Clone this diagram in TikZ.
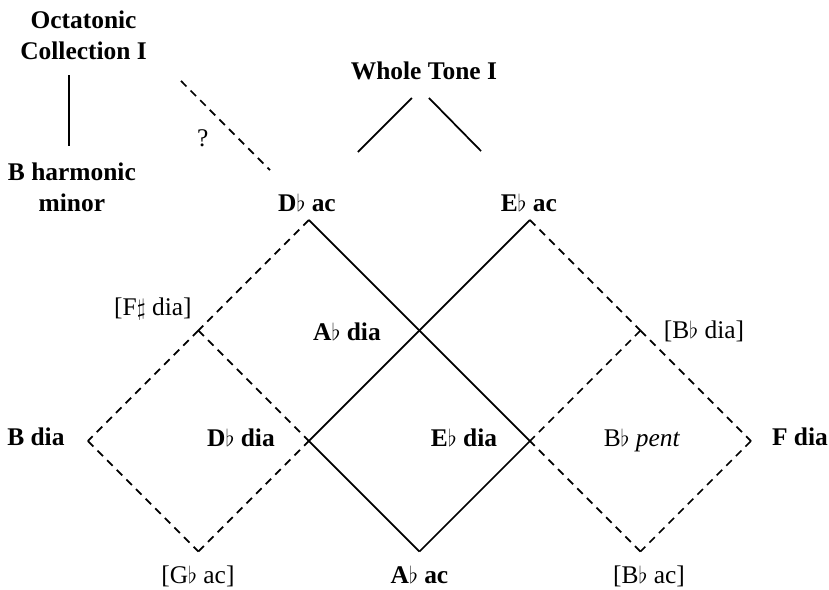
\documentclass[tikz,border=0pt]{standalone}
\usepackage{fontspec}
\setmainfont{Liberation Serif}
\usepackage{tikz}
\usetikzlibrary{arrows}

\tikzset{
  lbl/.style={anchor=base,inner sep=0pt,font=\fontsize{13.1}{16}\selectfont},
  bflbl/.style={lbl,font=\fontsize{13.1}{16}\selectfont\bfseries},
  solidline/.style={line width=0.9pt},
  dashline/.style={line width=0.9pt,dash pattern=on 4pt off 3pt}
}

\begin{document}
\begin{tikzpicture}[line cap=butt,line join=miter,x=2cm,y=2cm]
		\clip(-3.796,-1.348) rectangle (3.706,3.991);
		% lattice points
		\coordinate (dbac) at (-1,2);
		\coordinate (ebac) at (1,2);
		\coordinate (abdia) at (0,1);
		\coordinate (dbdia) at (-1,0);
		\coordinate (ebdia) at (1,0);
		\coordinate (abac) at (0,-1);
		\coordinate (fsdia) at (-2,1);
		\coordinate (bdia) at (-3,0);
		\coordinate (gbac) at (-2,-1);
		\coordinate (bbdia) at (2,1);
		\coordinate (fdia) at (3,0);
		\coordinate (bbac) at (2,-1);
		% free ends of the upper strokes
		\coordinate (wtl1) at (-0.557,2.615);
		\coordinate (wtl2) at (-0.068,3.104);
		\coordinate (wtr1) at (0.086,3.104);
		\coordinate (wtr2) at (0.557,2.624);
		\coordinate (oct1) at (-3.172,3.312);
		\coordinate (oct2) at (-3.172,2.670);
		\coordinate (q1) at (-2.158,3.258);
		\coordinate (q2) at (-1.353,2.452);
		% solid diamond
		\draw [solidline] (dbac)-- (abdia);
		\draw [solidline] (abdia)-- (ebdia);
		\draw [solidline] (ebac)-- (abdia);
		\draw [solidline] (abdia)-- (dbdia);
		\draw [solidline] (dbdia)-- (abac);
		\draw [solidline] (abac)-- (ebdia);
		% left dashed diamond
		\draw [dashline] (dbac)-- (fsdia);
		\draw [dashline] (fsdia)-- (bdia);
		\draw [dashline] (bdia)-- (gbac);
		\draw [dashline] (gbac)-- (dbdia);
		\draw [dashline] (fsdia)-- (dbdia);
		% right dashed diamond
		\draw [dashline] (ebac)-- (bbdia);
		\draw [dashline] (bbdia)-- (fdia);
		\draw [dashline] (fdia)-- (bbac);
		\draw [dashline] (bbac)-- (ebdia);
		\draw [dashline] (bbdia)-- (ebdia);
		% top
		\draw [solidline] (wtl1)-- (wtl2);
		\draw [solidline] (wtr1)-- (wtr2);
		\draw [solidline] (oct1)-- (oct2);
		\draw [dashline] (q1)-- (q2);
		% labels
		\node[bflbl,align=center] (octlbl) at (-3.04,3.454) {Octatonic\\Collection I};
		\node[bflbl] (wtlbl) at (0.04,3.267) {Whole Tone I};
		\node[bflbl,align=center] (bhmlbl) at (-3.145,2.075) {B harmonic\\minor};
		\node[lbl] (qlbl) at (-1.96,2.663) {?};
		\node[bflbl] (dbaclbl) at (-1.018,2.075) {D$\flat$ ac};
		\node[bflbl] (ebaclbl) at (0.99,2.081) {E$\flat$ ac};
		\node[lbl] (fsdialbl) at (-2.412,1.140) {[F$\sharp$ dia]};
		\node[bflbl] (abdialbl) at (-0.656,0.908) {A$\flat$ dia};
		\node[lbl] (bbdialbl) at (2.575,0.932) {[B$\flat$ dia]};
		\node[bflbl] (bdialbl) at (-3.471,-0.045) {B dia};
		\node[bflbl] (dbdialbl) at (-1.615,-0.054) {D$\flat$ dia};
		\node[bflbl] (ebdialbl) at (0.403,-0.052) {E$\flat$ dia};
		\node[lbl] (bbpentlbl) at (2.014,-0.054) {B$\flat$ \textit{pent}};
		\node[bflbl] (fdialbl) at (3.443,-0.045) {F dia};
		\node[lbl] (gbaclbl) at (-2.005,-1.29) {[G$\flat$ ac]};
		\node[bflbl] (abaclbl) at (0,-1.29) {A$\flat$ ac};
		\node[lbl] (bbaclbl) at (2.077,-1.29) {[B$\flat$ ac]};
\end{tikzpicture}
\end{document}
